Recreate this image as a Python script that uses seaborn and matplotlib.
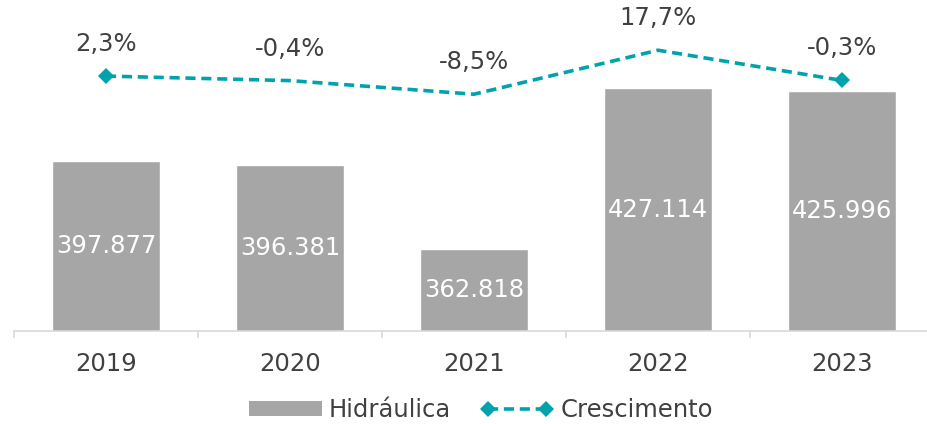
import matplotlib
matplotlib.use('Agg')
import numpy as np
import pandas as pd
import matplotlib.pyplot as plt
import seaborn as sns
from matplotlib.lines import Line2D
from matplotlib.patches import Patch

# dados
anos = ['2019', '2020', '2021', '2022', '2023']
hidraulica = [397.877, 396.381, 362.818, 427.114, 425.996]
crescimento = [2.3, -0.4, -8.5, 17.7, -0.3]

cor_barra = '#a6a6a6'
cor_linha = '#00a3ad'
cor_texto = '#404040'

sns.set_style('white')
plt.rcParams['font.family'] = ['DejaVu Sans']

fig = plt.figure(figsize=(9.28, 4.24), dpi=100)
ax = fig.add_axes([14 / 928, 93 / 424, 920 / 928, 331 / 424])

df = pd.DataFrame({'ano': anos, 'valor': hidraulica})
sns.barplot(data=df, x='ano', y='valor', color=cor_barra, width=0.59,
            saturation=1, ax=ax)
ax.set_ylim(330, 462.4)
ax.set_xlim(-0.5, 4.5)

for i, v in enumerate(hidraulica):
    ax.text(i, (330 + v) / 2, f'{v:.3f}', ha='center', va='center',
            color='white', fontsize=17.5)

# eixo
for s in ['top', 'right', 'left']:
    ax.spines[s].set_visible(False)
ax.spines['bottom'].set_color('#d9d9d9')
ax.spines['bottom'].set_linewidth(1.2)
ax.set_yticks([])
ax.set_xlabel('')
ax.set_ylabel('')
ax.set_xticks(np.arange(-0.5, 5, 1), minor=True)
ax.tick_params(axis='x', which='major', bottom=True, length=0, pad=15,
               labelsize=17.5, labelcolor=cor_texto)
ax.tick_params(axis='x', which='minor', bottom=True, length=5,
               color='#d9d9d9', width=1.2, direction='out')

# crescimento
ax2 = ax.twinx()
x = np.arange(len(anos))
sns.lineplot(x=x, y=crescimento, ax=ax2, color=cor_linha, linewidth=2.6,
             marker='D', markersize=8, markevery=[0, len(anos) - 1],
             markeredgewidth=0, dashes=False)
ax2.lines[0].set_dashes((2.8, 1.6))
ax2.set_ylim(-149.5, 47.6)
ax2.set_yticks([])
for s in ['top', 'right', 'left', 'bottom']:
    ax2.spines[s].set_visible(False)

for i, g in enumerate(crescimento):
    ax2.annotate(f'{g:.1f}'.replace('.', ',') + '%', (i, g),
                 xytext=(0, 23), textcoords='offset points',
                 ha='center', va='center', fontsize=17.5, color=cor_texto)

# legenda
handles = [
    Patch(facecolor=cor_barra, edgecolor='none'),
    Line2D([0], [0], color=cor_linha, linewidth=2.6, linestyle=(0, (2.8, 1.6)),
           marker='D', markersize=8, markeredgewidth=0),
]
fig.legend(handles, ['Hidráulica', 'Crescimento'], loc='center',
           bbox_to_anchor=(481 / 928, 1 - 410 / 424), ncol=2, frameon=False,
           fontsize=17.5, labelcolor=cor_texto, handlelength=3.0,
           handleheight=0.55, handletextpad=0.3, columnspacing=1.2,
           numpoints=2)

fig.savefig('out.png', dpi=100)
